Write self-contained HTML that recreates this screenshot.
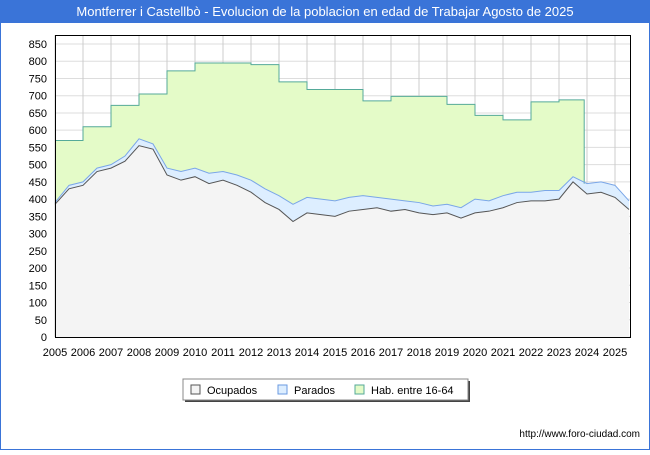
<!DOCTYPE html>
<html><head><meta charset="utf-8"><style>
body{margin:0;width:650px;height:450px;overflow:hidden;background:#fff;font-family:"Liberation Sans",sans-serif}
</style></head><body>
<svg id="c" width="650" height="450" xmlns="http://www.w3.org/2000/svg">
<rect x="0.5" y="0.5" width="649" height="449" fill="#fff" stroke="#3a74d8"/>
<rect x="0" y="0" width="650" height="23" fill="#3a74d8"/>
<text x="325" y="16" text-anchor="middle" fill="#fff" font-size="13">Montferrer i Castellbò - Evolucion de la poblacion en edad de Trabajar Agosto de 2025</text>
<g id="grid"></g><g id="series"></g><g id="axes"></g>
<rect x="55.5" y="35.5" width="575" height="302" fill="none" stroke="#000"/>
<g>
<rect x="185" y="381" width="285" height="21" fill="#444"/>
<rect x="183" y="379" width="285" height="21" fill="#fff" stroke="#888"/>
<rect x="191" y="385" width="9" height="9" fill="#f4f4f4" stroke="#555"/>
<text x="207" y="394" font-size="11">Ocupados</text>
<rect x="278" y="385" width="9" height="9" fill="#ddeeff" stroke="#6a9ae0"/>
<text x="294" y="394" font-size="11">Parados</text>
<rect x="355" y="385" width="9" height="9" fill="#e4fbc8" stroke="#5a9"/>
<text x="371" y="394" font-size="11">Hab. entre 16-64</text>
</g>
<text x="640" y="437" text-anchor="end" font-size="10">http://www.foro-ciudad.com</text>
</svg>
<script>
const years=[2005,2006,2007,2008,2009,2010,2011,2012,2013,2014,2015,2016,2017,2018,2019,2020,2021,2022,2023];
const hab=[570,610,672,705,772,795,795,790,740,718,718,685,698,698,675,643,630,682,688];
const habEndValue=[445];
const times=[2005,2005.5,2006,2006.5,2007,2007.5,2008,2008.5,2009,2009.5,2010,2010.5,2011,2011.5,2012,2012.5,2013,2013.5,2014,2014.5,2015,2015.5,2016,2016.5,2017,2017.5,2018,2018.5,2019,2019.5,2020,2020.5,2021,2021.5,2022,2022.5,2023,2023.5,2024,2024.5,2025,2025.5];
const ocupados=[385,430,440,480,490,510,555,545,470,455,465,445,455,440,420,390,370,335,360,355,350,365,370,375,365,370,360,355,360,345,360,365,375,390,395,395,400,450,415,420,405,370];
const total=[390,440,450,490,500,525,575,560,490,480,490,475,480,470,455,430,410,385,405,400,395,405,410,405,400,395,390,380,385,375,400,395,410,420,420,425,425,465,445,450,440,395];
const yTicks=[0,50,100,150,200,250,300,350,400,450,500,550,600,650,700,750,800,850];
const xTicks=[2005,2006,2007,2008,2009,2010,2011,2012,2013,2014,2015,2016,2017,2018,2019,2020,2021,2022,2023,2024,2025];
const NS="http://www.w3.org/2000/svg";
const X=t=>55+28*(t-2005), Y=v=>337-v*293/850;
function mk(tag,at,parent){const e=document.createElementNS(NS,tag);for(const k in at)e.setAttribute(k,at[k]);document.getElementById(parent).appendChild(e);return e;}
yTicks.forEach(v=>{
 const l=mk('line',{x1:55,x2:630,y1:Y(v),y2:Y(v),stroke:'#ddd'},'grid');
 
 
 const t=mk('text',{x:47,y:Y(v)+4,'text-anchor':'end','font-size':11},'axes');t.textContent=v;
 
 
});
xTicks.forEach(v=>{
 const l=mk('line',{x1:X(v),x2:X(v),y1:35,y2:337,stroke:'#ccc'},'grid');
 
 
 const t=mk('text',{x:X(v),y:356,'text-anchor':'middle','font-size':11},'axes');t.textContent=v;
 
 
});
let hp=[];years.forEach((y,i)=>{hp.push([X(y),Y(hab[i])]);hp.push([X(y+1),Y(hab[i])]);});
const endX=X(2023.9);hp[hp.length-1][0]=endX;
hp.push([endX,Y(habEndValue[0])]);
const habPath='M'+hp.map(p=>p.join(',')).join('L');
const habArea=mk('path',{d:habPath+`L${endX},337L55,337Z`,fill:'#e4fbc8'},'series');


const line=(arr)=>times.map((t,i)=>`${X(t)},${Y(arr[i])}`).join('L');
const lastX=X(times[times.length-1]);
const ta=mk('path',{d:'M'+line(total)+`L${lastX},337L55,337Z`,fill:'#ddeeff'},'series');


const oa=mk('path',{d:'M'+line(ocupados)+`L${lastX},337L55,337Z`,fill:'#f4f4f4'},'series');


const hl=mk('path',{d:habPath,fill:'none',stroke:'#5a9','stroke-width':1},'series');


const tl=mk('path',{d:'M'+line(total),fill:'none',stroke:'#7aa6e8','stroke-width':1},'series');


const ol=mk('path',{d:'M'+line(ocupados),fill:'none',stroke:'#555','stroke-width':1},'series');


</script>
</body></html>
